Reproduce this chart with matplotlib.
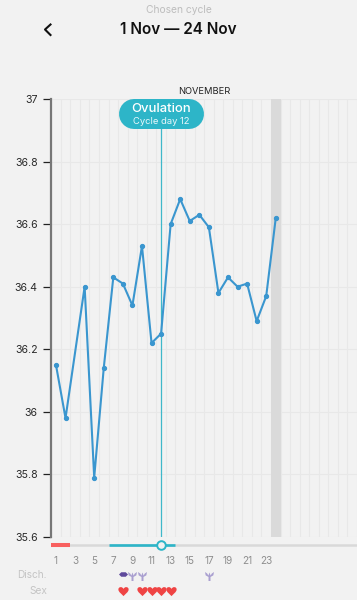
import matplotlib
matplotlib.use('Agg')
import matplotlib.pyplot as plt
from matplotlib.path import Path

plt.rcParams['font.family'] = ['Inter', 'DejaVu Sans']

days = [1, 2, 4, 5, 6, 7, 8, 9, 10, 11, 12, 13, 14, 15, 16, 17, 18, 19, 20, 21, 22, 23, 24]
temps = [36.15, 35.98, 36.40, 35.79, 36.14, 36.43, 36.41, 36.34, 36.53, 36.22, 36.25, 36.60,
         36.68, 36.61, 36.63, 36.59, 36.38, 36.43, 36.40, 36.41, 36.29, 36.37, 36.62]
y_ticks = [35.6, 35.8, 36, 36.2, 36.4, 36.6, 36.8, 37]
y_labels = ['35.6', '35.8', '36', '36.2', '36.4', '36.6', '36.8', '37']
x_ticks = [1, 3, 5, 7, 9, 11, 13, 15, 17, 19, 21, 23]
ovulation_day = 12
today = 24
period_days = [0.5, 2.5]
fertile_days = [6.5, 13.5]
disch_dark = [8]
disch_light = [9, 10, 17]
sex_days = [8, 10, 11, 12, 13]

W, H = 357, 600
bg = '#f2f2f2'
teal = '#2db5c8'


def px_axes(x0, y0, x1, y1):
    # axes from pixel box, y counted from the top
    return fig.add_axes([x0 / W, 1 - y1 / H, (x1 - x0) / W, (y1 - y0) / H])


fig = plt.figure(figsize=(W / 100, H / 100), dpi=100, facecolor=bg)

# main chart
ax = px_axes(51, 99, 357, 537)
ax.set_facecolor(bg)
xlim = (0.48, 32.5)
ax.set_xlim(xlim)
ax.set_ylim(35.6, 37)
ax.axvspan(today - 0.5, today + 0.5, color='#dadada', lw=0, zorder=1)
for d in range(1, 33):
    ax.axvline(d + 0.5, color='#e8e8e8', lw=0.8, zorder=0)
for v in y_ticks:
    ax.axhline(v, color='#e8e8e8', lw=0.8, zorder=0)
ax.axvline(ovulation_day, color='#3fb8ca', lw=0.9, zorder=2)
ax.plot(days, temps, color='#3a96cf', lw=1.5, marker='o', ms=2.8, zorder=3, clip_on=False)
ax.set_yticks(y_ticks, y_labels)
ax.set_xticks([])
ax.tick_params(axis='y', length=6, width=0.9, color='#222222', labelsize=7.6,
               labelcolor='#2a2a2a', pad=3.5)
for s in ['top', 'right', 'bottom']:
    ax.spines[s].set_visible(False)
ax.spines['left'].set_color('#777777')
ax.spines['left'].set_linewidth(1.6)

# strip under the chart, y in pixels
strip = px_axes(51, 537, 357, 600)
strip.set_xlim(xlim)
strip.set_ylim(600, 537)
strip.axis('off')
strip.patch.set_alpha(0)
strip.plot(xlim, [544.7, 544.7], color='#d9d9d9', lw=1.8, solid_capstyle='butt')
strip.plot(period_days, [544.7, 544.7], color='#f8605f', lw=2.9, solid_capstyle='butt')
strip.plot(fertile_days, [544.7, 544.7], color=teal, lw=1.9, solid_capstyle='butt')
strip.plot([ovulation_day], [544.7], 'o', ms=6.2, mfc=bg, mec=teal, mew=1.4, clip_on=False)
for d in x_ticks:
    strip.text(d, 560.5, str(d), ha='center', va='center', fontsize=7.2, color='#8f8f8f')

tulip = Path([(-1, 1), (-0.85, 0.25), (-0.22, -0.1), (-0.22, -1), (0.22, -1), (0.22, -0.1),
              (0.85, 0.25), (1, 1), (0.5, 0.65), (0.25, 0.2), (0, 0.9), (-0.25, 0.2),
              (-0.5, 0.65), (-1, 1)], closed=True)
leaf = Path([(-1, 0), (-0.5, 0.5), (0.5, 0.5), (1, 0), (0.5, -0.5), (-0.5, -0.5), (-1, 0)], closed=True)
heart = Path([(0, -0.9), (-0.4, -0.45), (-1, -0.1), (-1, 0.4),
              (-1, 0.95), (-0.25, 1.05), (0, 0.5),
              (0.25, 1.05), (1, 0.95), (1, 0.4),
              (1, -0.1), (0.4, -0.45), (0, -0.9)],
             [Path.MOVETO] + [Path.CURVE4] * 12)
strip.scatter(disch_light, [575.5] * len(disch_light), marker=tulip, s=42, c='#a99fd0', lw=0,
              clip_on=False)
strip.scatter(disch_dark, [573.5] * len(disch_dark), marker=leaf, s=42, c='#5f4a9c', lw=0,
              clip_on=False)
strip.scatter(sex_days, [590.5] * len(sex_days), marker=heart, s=60, c='#ef4444', lw=0,
              clip_on=False)

# header and overlay bits, pixel coordinates
top = px_axes(0, 0, W, H)
top.set_xlim(0, W)
top.set_ylim(H, 0)
top.axis('off')
top.patch.set_alpha(0)
top.text(178.5, 10, 'Chosen cycle', ha='center', va='center', fontsize=7.4, color='#bdbdbd')
top.text(178.5, 29.5, '1 Nov \u2014 24 Nov', ha='center', va='center', fontsize=11,
         fontweight='semibold', color='#111111')
top.plot([50.5, 45, 50.5], [24.5, 29.5, 35], color='#111111', lw=1.5)
top.text(204, 91.5, 'NOVEMBER', ha='center', va='center', fontsize=6.7, color='#222222')
top.plot([133.5, 189], [114, 114], color=teal, lw=21.6, solid_capstyle='round', zorder=4)
top.text(161, 108.5, 'Ovulation', ha='center', va='center', fontsize=9.4, color='white',
         fontweight='medium', zorder=5)
top.text(161, 122, 'Cycle day 12', ha='center', va='center', fontsize=6.8, color='#e6f7fa', zorder=5)
top.text(47, 575.5, 'Disch.', ha='right', va='center', fontsize=7.3, color='#c4c4c4')
top.text(47, 590.5, 'Sex', ha='right', va='center', fontsize=7.3, color='#c4c4c4')

fig.savefig('out.png', dpi=100, facecolor=bg)
